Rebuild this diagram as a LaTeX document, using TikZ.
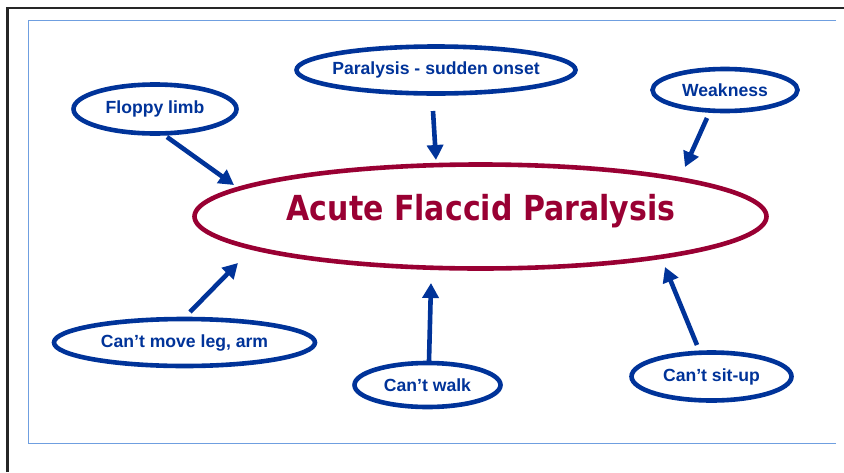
\documentclass[tikz,border=0pt]{standalone}
\usepackage{fontspec}
\setmainfont{Liberation Sans}
\newfontfamily\titlefont{DejaVu Sans}
\usetikzlibrary{arrows.meta,shapes.geometric}
\definecolor{dblue}{HTML}{003399}
\definecolor{crimson}{HTML}{990033}
\definecolor{lblue}{HTML}{6F9FE0}
\tikzset{
  leaf/.style={ellipse, draw=dblue, line width=4.6pt, text=dblue, font=\fontsize{17.6}{19}\selectfont\bfseries, inner ysep=0pt, inner xsep=-14pt},
  link/.style={draw=dblue, line width=4.6pt, -{Triangle[width=16pt,length=15pt]}}
}
\begin{document}
\begin{tikzpicture}[x=1pt,y=-1pt]
\useasboundingbox (0,0) rectangle (844,472);
\fill[white] (0,0) rectangle (844,472);
% outer frame
\draw[line width=2.2pt, black!85] (7.5,472) -- (7.5,8) -- (844,8);
% inner blue frame
\draw[line width=1.8pt, lblue] (836,20.5) -- (28.5,20.5) -- (28.5,443.5) -- (836,443.5);
% main ellipse
\node[ellipse, draw=crimson, line width=4.6pt, minimum width=572pt, minimum height=104pt, inner sep=0pt] (afp) at (480.5,216.5) {};
\node[text=crimson, inner sep=0pt] (afpt) at (481,211) {\scalebox{1}[1.15]{\titlefont\bfseries\fontsize{30}{34}\selectfont Acute Flaccid Paralysis}};
% leaves
\node[leaf, minimum width=163pt, minimum height=49pt] (floppy) at (155,109) {Floppy limb};
\node[leaf, minimum width=279pt, minimum height=47pt] (onset) at (436,70) {Paralysis - sudden onset};
\node[leaf, minimum width=145pt, minimum height=42pt] (weak) at (725,90) {Weakness};
\node[leaf, minimum width=261pt, minimum height=47pt] (move) at (184.5,342.5) {Can’t move leg, arm};
\node[leaf, minimum width=146pt, minimum height=44pt] (walk) at (427.5,385) {Can’t walk};
\node[leaf, minimum width=160pt, minimum height=48pt] (sit) at (711.5,376.5) {Can’t sit-up};
% arrow endpoints
\coordinate (t1) at (234,185);
\coordinate (t2) at (436,160);
\coordinate (t3) at (685,167);
\coordinate (t4) at (238,263);
\coordinate (t5) at (431,283);
\coordinate (t6) at (665,267);
\coordinate (s1) at (167,137);
\coordinate (s2) at (433,111);
\coordinate (s3) at (707,118);
\coordinate (s4) at (190,312);
\coordinate (s5) at (429,361);
\coordinate (s6) at (697,345);
\draw[link] (s1) -- (t1);
\draw[link] (s2) -- (t2);
\draw[link] (s3) -- (t3);
\draw[link] (s4) -- (t4);
\draw[link] (s5) -- (t5);
\draw[link] (s6) -- (t6);
\end{tikzpicture}
\end{document}
